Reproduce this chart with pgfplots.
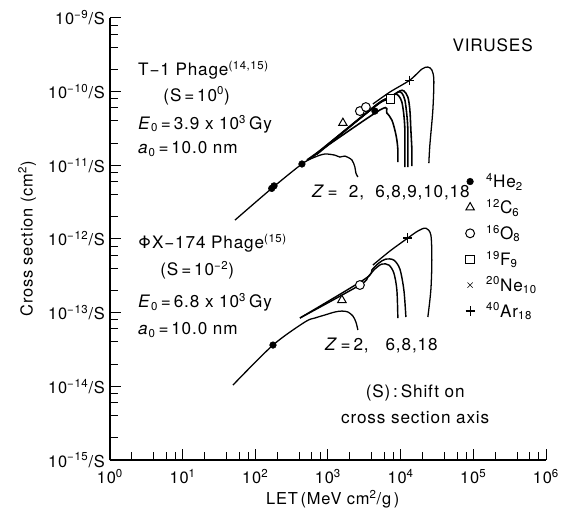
\documentclass[border=0pt]{standalone}
\usepackage{fontspec}
\setmainfont{TeX Gyre Heros}[LetterSpace=5]
\usepackage{pgfplots}
\pgfplotsset{compat=1.18}
\begin{document}
\begin{tikzpicture}[font=\fontsize{11.5}{13}\selectfont]
\useasboundingbox (-77pt,-35.7pt) rectangle (322pt,322pt);
\begin{axis}[
  scale only axis, width=305.2pt, height=309.5pt,
  xmode=log, ymode=log,
  xmin=1, xmax=1e6, ymin=1e-15, ymax=1e-9,
  axis lines*=left,
  axis line style={line width=0.9pt},
  tick align=inside,
  major tick length=8pt, minor tick length=5.5pt,
  every tick/.style={line width=0.7pt, black},
  xtick={1,10,100,1000,10000,100000,1000000},
  xticklabels={10\textsuperscript{0},10\textsuperscript{1},10\textsuperscript{2},10\textsuperscript{3},10\textsuperscript{4},10\textsuperscript{5},10\textsuperscript{6}},
  xticklabel style={yshift=-3pt},
  minor xtick={2,4,6,8,20,40,60,80,200,400,600,800,2000,4000,6000,8000,20000,40000,60000,80000,200000,400000,600000,800000},
  ytick={1e-15,1e-14,1e-13,1e-12,1e-11,1e-10,1e-9},
  yticklabels={10\textsuperscript{−15}/S,10\textsuperscript{−14}/S,10\textsuperscript{−13}/S,10\textsuperscript{−12}/S,10\textsuperscript{−11}/S,10\textsuperscript{−10}/S,10\textsuperscript{−9}/S},
  minor ytick={2e-15,4e-15,6e-15,8e-15,2e-14,4e-14,6e-14,8e-14,2e-13,4e-13,6e-13,8e-13,2e-12,4e-12,6e-12,8e-12,2e-11,4e-11,6e-11,8e-11,2e-10,4e-10,6e-10,8e-10},
  xlabel={LET\,(MeV cm\textsuperscript{2}/g\,)},
  ylabel={Cross section (cm\textsuperscript{2})},
  xlabel style={at={(axis description cs:0.511,-0.088)}, anchor=center},
  ylabel style={at={(axis description cs:-0.19,0.5)}, anchor=center},
  legend style={draw=none, fill=none, at={(axis description cs:0.805,0.662)}, anchor=north west, row sep=2.6pt, font=\fontsize{12}{13}\selectfont,
    /tikz/every odd column/.append style={column sep=6pt}},
  legend cell align=left,
  clip=false,
]
% ---------- T-1 phage (upper group) ----------
\addplot[black, line width=0.9pt, smooth, tension=0.5, forget plot] coordinates {
(52.4,1.80e-12) (168,4.85e-12) (438,1.04e-11) (661,1.29e-11) (906,1.42e-11) (1245,1.37e-11) (1459,1.29e-11) (1708,1.33e-11) (2132,1.18e-11) (2344,9.44e-12) (2421,7.83e-12) (2578,6.92e-12)};
\addplot[black, line width=1.1pt, smooth, tension=0.5, forget plot] coordinates {
(513,1.18e-11) (5171,5.61e-11) (6453,5.10e-11) (7564,4.10e-11) (8318,3.01e-11) (8868,2.20e-11) (9149,1.61e-11) (9149,1.10e-11)};
\addplot[black, line width=1.1pt, smooth, tension=0.5, forget plot] coordinates {
(560,1.22e-11) (4707,6.56e-11) (6662,7.67e-11) (8318,9.25e-11) (9443,8.69e-11) (10390,7.21e-11) (11070,4.80e-11) (11430,3.01e-11) (11430,1.61e-11) (11430,9.44e-12)};
\addplot[black, line width=1.1pt, smooth, tension=0.5, forget plot] coordinates {
(620,1.30e-11) (4707,6.70e-11) (7099,8.16e-11) (9149,9.84e-11) (10390,9.54e-11) (11430,7.67e-11) (12170,4.80e-11) (12560,3.01e-11) (12560,1.61e-11) (12560,9.44e-12)};
\addplot[black, line width=1.1pt, smooth, tension=0.5, forget plot] coordinates {
(700,1.40e-11) (4600,6.50e-11) (7328,8.42e-11) (9747,1.02e-10) (11070,1.02e-10) (12560,8.42e-11) (13390,5.61e-11) (13820,3.01e-11) (14270,1.61e-11) (14270,9.75e-12)};
\addplot[black, line width=0.9pt, smooth, tension=0.5, forget plot] coordinates {
(4146,6.77e-11) (7099,9.84e-11) (13390,1.43e-10) (19590,2.02e-10) (23670,2.15e-10) (26870,1.96e-10) (28620,1.43e-10) (27730,5.61e-11) (25220,1.88e-11) (24430,1.07e-11)};
% ---------- PhiX-174 phage (lower group) ----------
\addplot[black, line width=0.9pt, smooth, tension=0.5, forget plot] coordinates {
(49.2,1.04e-14) (175,3.63e-14) (481,7.46e-14) (661,8.45e-14) (906,9.29e-14) (1245,1.02e-13) (1553,1.05e-13) (1879,1.02e-13) (2201,9.00e-14) (2421,7.46e-14) (2578,5.81e-14)};
\addplot[black, line width=1.0pt, smooth, tension=0.5, forget plot] coordinates {
(411,8.45e-14) (2748,2.37e-13) (3540,3.04e-13) (4418,3.91e-13) (5513,4.56e-13) (6879,4.42e-13) (8058,3.45e-13) (8868,2.03e-13) (9149,8.45e-14)};
\addplot[black, line width=1.0pt, smooth, tension=0.5, forget plot] coordinates {
(411,8.45e-14) (3218,2.86e-13) (4014,3.79e-13) (5012,4.71e-13) (6252,5.33e-13) (8058,5.16e-13) (9747,3.91e-13) (11070,2.03e-13) (11800,8.72e-14)};
\addplot[black, line width=0.9pt, smooth, tension=0.5, forget plot] coordinates {
(4146,4.42e-13) (7099,6.84e-13) (12560,1.03e-12) (17250,1.28e-12) (22220,1.40e-12) (26030,1.13e-12) (26870,5.16e-13) (26030,2.03e-13) (23670,8.72e-14)};
% ---------- data points ----------
\addplot[only marks, mark=*, mark size=2.3pt, black] coordinates {
(168,4.85e-12) (181,5.25e-12) (438,1.04e-11) (4418,5.43e-11) (175,3.63e-14)};
\addlegendentry{\textsuperscript{4}He\textsubscript{2}}
\addplot[only marks, mark=triangle*, mark size=3.4pt, black, fill=white, mark options={line width=0.7pt}] coordinates {
(1603,3.74e-11) (1553,1.48e-13)};
\addlegendentry{\textsuperscript{12}C\textsubscript{6}}
\addplot[only marks, mark=*, mark size=3.1pt, black, fill=white, mark options={line width=0.7pt}] coordinates {
(2748,5.43e-11) (3320,6.16e-11) (2748,2.37e-13)};
\addlegendentry{\textsuperscript{16}O\textsubscript{8}}
\addplot[only marks, mark=square*, mark size=2.9pt, black, fill=white, mark options={line width=0.7pt}] coordinates {
(7328,7.91e-11)};
\addlegendentry{\textsuperscript{19}F\textsubscript{9}}
\addlegendimage{only marks, mark=x, mark size=2.6pt, black}
\addlegendentry{\textsuperscript{20}Ne\textsubscript{10}}
\addplot[only marks, mark=+, mark size=3.2pt, black, mark options={line width=0.8pt}] coordinates {
(13390,1.43e-10) (12560,1.03e-12)};
\addlegendentry{\textsuperscript{40}Ar\textsubscript{18}}
% ---------- annotations ----------
\begin{scope}[every node/.style={inner sep=0pt, font=\fontsize{12}{14}\selectfont}]
\node[anchor=west] at (axis description cs:0.064,0.882) {T−1 Phage\textsuperscript{(14,15)}};
\node[anchor=west] at (axis description cs:0.122,0.824) {(S\,=\,10\textsuperscript{0})};
\node[anchor=west] at (axis description cs:0.064,0.760) {\textit{E}\textsubscript{0}\,=\,3.9 x 10\textsuperscript{3}\,Gy};
\node[anchor=west] at (axis description cs:0.064,0.704) {\textit{a}\textsubscript{0}\,=\,10.0 nm};
\node[anchor=west] at (axis description cs:0.785,0.939) {VIRUSES};
\node[anchor=west] at (axis description cs:0.463,0.606) {\textit{Z}\,=\ \ 2,\ \ 6,8,9,10,18};
\node[anchor=west] at (axis description cs:0.064,0.491) {ΦX−174 Phage\textsuperscript{(15)}};
\node[anchor=west] at (axis description cs:0.115,0.430) {(S\,=\,10\textsuperscript{−2})};
\node[anchor=west] at (axis description cs:0.064,0.357) {\textit{E}\textsubscript{0}\,=\,6.8 x 10\textsuperscript{3}\,Gy};
\node[anchor=west] at (axis description cs:0.064,0.294) {\textit{a}\textsubscript{0}\,=\,10.0 nm};
\node[anchor=west] at (axis description cs:0.493,0.258) {\textit{Z}\,=\,2,\ \ \ 6,8,18};
\node[anchor=center] at (axis description cs:0.700,0.152) {(S)\,:\,Shift on};
\node[anchor=center] at (axis description cs:0.700,0.095) {cross section axis};
\end{scope}
\end{axis}
\end{tikzpicture}
\end{document}
